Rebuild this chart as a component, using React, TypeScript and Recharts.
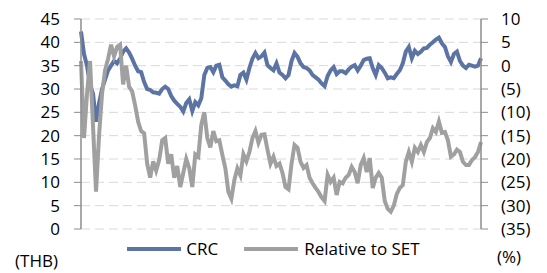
import React from "react";
import { LineChart, Line, XAxis, YAxis, CartesianGrid, Legend } from "recharts";

// CRC share price (THB), left axis
const crcPrice = [
  42.3, 37.5, 35, 31, 29, 23, 27, 30, 32, 34, 35, 36, 35.5, 36.5, 38, 38.7, 37.8, 36.5, 35, 33.8,
  33.6, 31.5, 30, 29.8, 29.3, 29.2, 29, 30, 30.5, 30, 28.5, 27.5, 26.8, 26.2, 25.2, 27, 27.8, 25.3, 27.2, 26.5,
  28, 33, 34.5, 34.7, 33.6, 35, 35.2, 32.5, 31.8, 31, 30.5, 30.8, 30.6, 33, 33.5, 32, 34.5, 36.5, 37.7, 36.6,
  37, 37.8, 35.1, 34.5, 34, 35.5, 33.5, 33, 32.3, 33, 36, 37.7, 36.9, 35.5, 34.7, 34.5, 34, 33, 32.5, 32,
  31.2, 30.6, 32.8, 34, 34.7, 33.2, 33.8, 33.8, 33.4, 34.2, 34.8, 35.1, 34, 35, 36.2, 36.5, 36.6, 34.5, 33, 35.1,
  34.5, 33.5, 32.3, 32.5, 32.3, 33.2, 34, 35.5, 38, 39, 36.6, 38.2, 37.5, 38, 38.7, 38.8, 39.5, 40, 40.6, 41,
  39.8, 39, 37, 35.8, 37.5, 38, 36, 35, 34.5, 35.2, 35, 34.8, 35, 36.6,
];

// performance relative to SET (%), right axis
const relativeToSet = [
  1, -15.5, -6, 1, -13, -27, -15, -6, -1, 1.5, 4.5, 2, 4, 4.5, -4, 0, -4.5, -5.5, -8.5, -12,
  -14, -14.5, -21, -24, -20.5, -22.5, -20.2, -16, -15.5, -21, -19, -24, -21.5, -26, -23, -20, -22, -26, -19, -19.5,
  -12.7, -10, -15.5, -17.5, -14, -16.2, -16, -19.1, -22, -27, -28.5, -24.5, -22, -23.5, -19, -20.5, -18.5, -15.5, -14, -16.5,
  -14.8, -14.7, -18, -21, -19.5, -21.5, -21, -23, -26, -26.5, -21, -17, -17.6, -20.6, -21.9, -21.3, -24, -25.2, -26.2, -27.1,
  -28.2, -29, -23.4, -24.9, -24, -27.7, -24.9, -25.2, -24, -23.4, -21.7, -22.8, -25.2, -21.3, -19.8, -22.8, -19.8, -26.2, -24, -23,
  -24, -29, -30.7, -31.3, -30, -27.5, -26.2, -25.6, -20.6, -18.5, -20.6, -17.6, -18.5, -17, -18.5, -16.4, -15.5, -13.4, -14.2, -12,
  -14.4, -14.2, -16, -19.5, -19, -18, -18.5, -20.6, -21.3, -21.3, -20.2, -19.6, -18.5, -16.4,
];

const leftTicks = [0, 5, 10, 15, 20, 25, 30, 35, 40, 45];
const rightTicks = [-35, -30, -25, -20, -15, -10, -5, 0, 5, 10];

const CRC_COLOR = "#5b74a4";
const REL_COLOR = "#a0a0a0";
const AXIS_COLOR = "#8c8c8c";
const FONT = "'Open Sans', sans-serif";

const data = crcPrice.map((v, i) => ({ day: i, crc: v, rel: relativeToSet[i] }));

const fmtPct = (v: number) => (v < 0 ? `(${Math.abs(v)})` : `${v}`);

const LegendBox = () => (
  <div style={{ display: "flex", justifyContent: "center", alignItems: "center", fontFamily: FONT, fontSize: 17, color: "#000" }}>
    <div style={{ width: 54, height: 4, background: CRC_COLOR }} />
    <span style={{ marginLeft: 5 }}>CRC</span>
    <div style={{ width: 54, height: 4, background: REL_COLOR, marginLeft: 26 }} />
    <span style={{ marginLeft: 6 }}>Relative to SET</span>
  </div>
);

export default function App() {
  const tickStyle = { fontFamily: FONT, fontSize: 17, fill: "#000" };
  const unitStyle = { position: "absolute" as const, fontFamily: FONT, fontSize: 17, lineHeight: "20px" };
  return (
    <div style={{ position: "fixed", left: 0, top: 0, width: 547, height: 273, background: "#fff" }}>
      <LineChart width={547} height={273} data={data} margin={{ top: 19, right: 0, bottom: 44, left: 0 }}>
        <CartesianGrid yAxisId="left" vertical={false} stroke="#d9d9d9" strokeDasharray="9 5" />
        <XAxis dataKey="day" tick={false} tickLine={false} height={0} axisLine={{ stroke: AXIS_COLOR, strokeWidth: 1.5 }} />
        <YAxis
          yAxisId="left"
          domain={[0, 45]}
          ticks={leftTicks}
          interval={0}
          width={81}
          tickSize={7}
          tickMargin={14}
          tick={tickStyle}
          axisLine={{ stroke: AXIS_COLOR, strokeWidth: 1.5 }}
          tickLine={{ stroke: AXIS_COLOR }}
        />
        <YAxis
          yAxisId="right"
          orientation="right"
          domain={[-35, 10]}
          ticks={rightTicks}
          interval={0}
          width={66}
          tickSize={7}
          tickMargin={13}
          tick={{ ...tickStyle, textAnchor: "start" }}
          tickFormatter={fmtPct}
          axisLine={{ stroke: AXIS_COLOR, strokeWidth: 1.5 }}
          tickLine={{ stroke: AXIS_COLOR }}
        />
        <Legend verticalAlign="middle" align="center" wrapperStyle={{ top: 237, left: 0, width: 547 }} content={() => <LegendBox />} />
        <Line yAxisId="left" type="linear" dataKey="crc" name="CRC" stroke={CRC_COLOR} strokeWidth={4} dot={false} isAnimationActive={false} />
        <Line yAxisId="right" type="linear" dataKey="rel" name="Relative to SET" stroke={REL_COLOR} strokeWidth={4} dot={false} isAnimationActive={false} />
      </LineChart>
      <div style={{ ...unitStyle, left: 15, top: 251 }}>(THB)</div>
      <div style={{ ...unitStyle, left: 497, top: 247 }}>(%)</div>
    </div>
  );
}
